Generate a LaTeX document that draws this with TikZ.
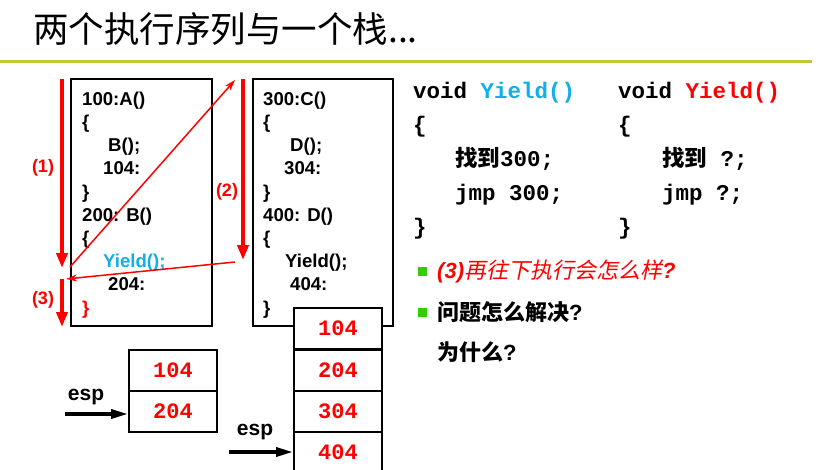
\documentclass[tikz,border=0pt]{standalone}
\usepackage{fontspec}
\setmainfont{Liberation Sans}
\newfontfamily\cjk{Noto Sans CJK SC}
\newfontfamily\cjkslant{Noto Sans CJK SC}[FakeSlant=0.2]
\newfontfamily\monofont{Liberation Mono}
\usetikzlibrary{arrows.meta}
\definecolor{slideOlive}{HTML}{C4C63C}
\definecolor{yieldCyan}{HTML}{12AEE8}
\definecolor{bulletGreen}{HTML}{33CC00}

\tikzset{
  code/.style={anchor=base west, inner sep=0pt, font=\fontsize{18.6}{20}\selectfont\bfseries},
  asm/.style={anchor=base west, inner sep=0pt, font=\monofont\fontsize{22.5}{24}\selectfont\bfseries},
  cell/.style={draw, line width=2pt, fill=white, minimum width=88pt, minimum height=41pt,
    inner sep=0pt, text=red, font=\monofont\fontsize{22}{24}\selectfont\bfseries},
  flow/.style={red, line width=4pt, -{Triangle[length=15pt,width=11pt]}},
  jump/.style={red, line width=1.5pt, -{Stealth[length=11pt,width=7pt]}},
  esparrow/.style={line width=3.5pt, -{Triangle[length=17pt,width=9pt]}},
  steplabel/.style={text=red, font=\fontsize{18}{20}\selectfont\bfseries, inner sep=0pt},
  bulletbox/.style={fill=bulletGreen, minimum size=9pt, inner sep=0pt},
}

\begin{document}
\begin{tikzpicture}[x=1pt, y=-1pt]
\useasboundingbox (0,0) rectangle (840,469);

% title
\node[anchor=west, inner sep=0pt, font=\cjk\fontsize{35.5}{37}\selectfont] (title) at (33,29) {两个执行序列与一个栈...};
\draw[slideOlive, line width=3.5pt] (0,61.5) -- (812,61.5);

% the two programs
\node[draw, line width=2pt, minimum width=141pt, minimum height=247pt] (progA) at (141.5,202.5) {};
\node[draw, line width=2pt, minimum width=140pt, minimum height=247pt] (progC) at (323,202.5) {};

\node[code] (a1) at (82,105.3) {100:A()};
\node[code] (a2) at (82,128.5) {\{};
\node[code] (a3) at (108,151.7) {B();};
\node[code] (a4) at (103,174.9) {104:};
\node[code] (a5) at (82,198.1) {\}};
\node[code] (a6) at (82,221.3) {200: B()};
\node[code] (a7) at (82,244.5) {\{};
\node[code, text=yieldCyan] (a8) at (103,267.7) {Yield();};
\node[code] (a9) at (108,290.9) {204:};
\node[code, text=red] (a10) at (82,314.1) {\}};

\node[code] (c1) at (263,105.3) {300:C()};
\node[code] (c2) at (263,128.5) {\{};
\node[code] (c3) at (290,151.7) {D();};
\node[code] (c4) at (284,174.9) {304:};
\node[code] (c5) at (263,198.1) {\}};
\node[code] (c6) at (263,221.3) {400: D()};
\node[code] (c7) at (263,244.5) {\{};
\node[code] (c8) at (285,267.7) {Yield();};
\node[code] (c9) at (290,290.9) {404:};
\node[code] (c10) at (263,314.1) {\}};

% execution order
\coordinate (run1) at (62,79);
\coordinate (stop1) at (62,268);
\coordinate (run3) at (62,279);
\coordinate (stop3) at (62,327);
\coordinate (run2) at (243,79);
\coordinate (stop2) at (243,260);
\draw[flow] (run1) -- (stop1);
\draw[flow] (run3) -- (stop3);
\draw[flow] (run2) -- (stop2);
\node[steplabel] (l1) at (43,168) {(1)};
\node[steplabel] (l3) at (43,300) {(3)};
\node[steplabel] (l2) at (227,192) {(2)};

\coordinate (yieldA) at (70,267);
\coordinate (entryC) at (235,80);
\coordinate (yieldC) at (235,262);
\coordinate (backA) at (66,279);
\draw[jump] (yieldA) -- (entryC);
\draw[jump] (yieldC) -- (backA);

% stacks
\node[cell] (s1) at (173,370) {104};
\node[cell] (s2) at (173,411.5) {204};
\node[cell] (t1) at (338,328.5) {104};
\node[cell] (t2) at (338,370) {204};
\node[cell] (t3) at (338,411.5) {304};
\node[cell] (t4) at (338,452.5) {404};

\coordinate (espA) at (65,414);
\coordinate (espC) at (229,452);
\draw[esparrow] (espA) -- (espA -| s2.west);
\draw[esparrow] (espC) -- (espC -| t4.west);
\node[font=\fontsize{21}{23}\selectfont\bfseries, inner sep=0pt] (espLA) at (86,397) {esp};
\node[font=\fontsize{21}{23}\selectfont\bfseries, inner sep=0pt] (espLC) at (255,432) {esp};

% Yield code
\node[asm] (y1) at (413,98) {void \textcolor{yieldCyan}{Yield()}};
\node[asm] (y2) at (413,132) {\{};
\node[asm] (y3) at (455,166) {{\cjk\bfseries 找到}300;};
\node[asm] (y4) at (455,200) {jmp 300;};
\node[asm] (y5) at (413,234) {\}};

\node[asm] (z1) at (618,98) {void \textcolor{red}{Yield()}};
\node[asm] (z2) at (618,132) {\{};
\node[asm] (z3) at (662,166) {{\cjk\bfseries 找到} ?;};
\node[asm] (z4) at (662,200) {jmp ?;};
\node[asm] (z5) at (618,234) {\}};

% questions
\node[bulletbox] (b1) at (422.5,271) {};
\node[bulletbox] (b2) at (422.5,312) {};
\node[anchor=base west, inner sep=0pt, text=red, font=\fontsize{22}{24}\selectfont] (q1) at (437,278)
  {\bfseries\itshape (3){\cjkslant\mdseries 再往下执行会怎么样}?};
\node[anchor=base west, inner sep=0pt, font=\fontsize{22}{24}\selectfont\bfseries] (q2) at (437,320)
  {{\cjk 问题怎么解决}?};
\node[anchor=base west, inner sep=0pt, font=\fontsize{22}{24}\selectfont\bfseries] (q3) at (437,360)
  {{\cjk 为什么}?};
\end{tikzpicture}
\end{document}
